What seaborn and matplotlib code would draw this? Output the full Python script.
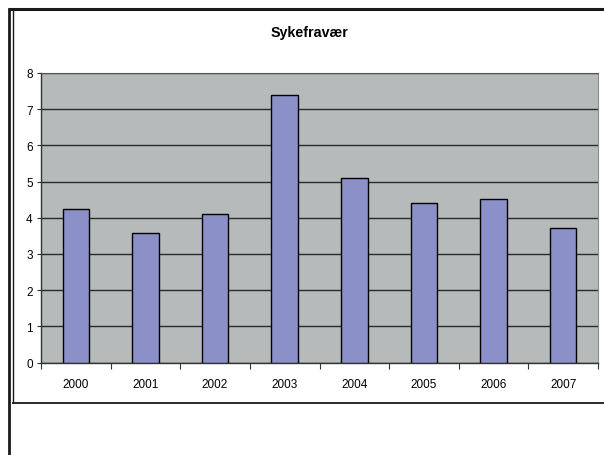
import numpy as np
import matplotlib
matplotlib.use('Agg')
import matplotlib.pyplot as plt
import seaborn as sns
from matplotlib.lines import Line2D

# Data
years = ['2000', '2001', '2002', '2003', '2004', '2005', '2006', '2007']
sykefravaer = [4.24, 3.57, 4.10, 7.39, 5.10, 4.40, 4.51, 3.73]
title = 'Sykefravær'

sns.set_style('white')
plt.rcParams['font.family'] = ['Liberation Sans', 'DejaVu Sans']
plt.rcParams['text.color'] = 'black'
plt.rcParams['xtick.color'] = 'black'
plt.rcParams['ytick.color'] = 'black'

W, H = 604, 456
fig = plt.figure(figsize=(W / 100, H / 100), dpi=100)

# plot area in pixel coords (left, top, right, bottom)
L, T, R, B = 41, 74, 598, 363.6
ax = fig.add_axes([L / W, 1 - B / H, (R - L) / W, (B - T) / H])
ax.set_facecolor('#b6babb')

sns.barplot(x=years, y=sykefravaer, color='#8b90c8', width=0.38,
            edgecolor='black', linewidth=1.0, saturation=1, ax=ax, zorder=3)

ax.set_ylim(0, 8)
ax.set_xlim(-0.5, len(years) - 0.5)
ax.set_yticks(range(0, 9))
ax.grid(axis='y', color='#2b2b2b', linewidth=1.0, zorder=0)
ax.set_axisbelow(True)
ax.set_xlabel('')
ax.set_ylabel('')

# ticks
ax.tick_params(axis='y', which='major', direction='out', length=3, width=0.8,
               pad=3, labelsize=8.5, left=True, color='#333333', labelcolor='black')
ax.tick_params(axis='x', which='major', length=0, pad=11, labelsize=8.5,
               labelcolor='black')
ax.set_xticks(np.arange(-0.5, len(years)), minor=True)
ax.tick_params(axis='x', which='minor', direction='out', length=4, width=0.8,
               bottom=True, color='#333333')

for side in ['left', 'bottom']:
    ax.spines[side].set_color('#333333')
    ax.spines[side].set_linewidth(1.0)
ax.spines['top'].set_color('#555555')
ax.spines['right'].set_color('#8a8e8f')

fig.text(310 / W, 1 - 33 / H, title, ha='center', va='center',
         fontsize=10.3, fontweight='bold', color='black')

# frames around the chart
def px_line(xs, ys, lw, color='#1a1a1a'):
    fig.add_artist(Line2D([x / W for x in xs], [1 - y / H for y in ys],
                          transform=fig.transFigure, color=color,
                          linewidth=lw, solid_capstyle='butt'))

px_line([8, W], [10, 10], 2.2)
px_line([9, 9], [9, H], 2.0)
px_line([12.5, 12.5], [10, 404], 1.0)
px_line([12, W], [404, 404], 1.3)

fig.savefig('out.png', dpi=100)
